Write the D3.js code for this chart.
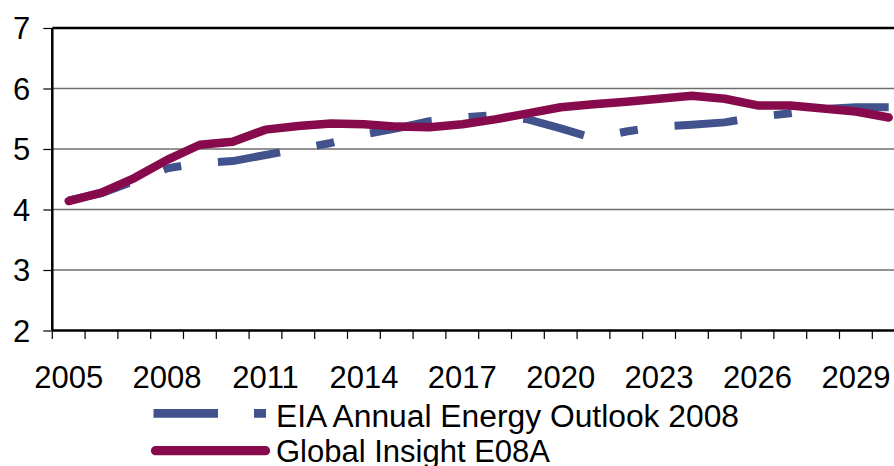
<!DOCTYPE html>
<html>
<head>
<meta charset="utf-8">
<script src="https://cdn.jsdelivr.net/npm/d3@7/dist/d3.min.js"></script>
<style>
  html, body { margin: 0; padding: 0; background: #ffffff; }
  svg { display: block; }
  text { font-family: "Liberation Sans", Arial, Helvetica, sans-serif; fill: #000; }
</style>
</head>
<body>
<svg id="chart" width="894" height="466"></svg>
<script>
// ---- data ----
const years = [2005, 2006, 2007, 2008, 2009, 2010, 2011, 2012, 2013, 2014, 2015, 2016, 2017,
               2018, 2019, 2020, 2021, 2022, 2023, 2024, 2025, 2026, 2027, 2028, 2029, 2030];
const eiaValues = [4.15, 4.27, 4.47, 4.68, 4.77, 4.80, 4.90, 5.00, 5.10, 5.24, 5.34, 5.46, 5.52,
                   5.56, 5.49, 5.34, 5.18, 5.29, 5.37, 5.40, 5.44, 5.53, 5.59, 5.66, 5.69, 5.69];
const giValues = [4.14, 4.28, 4.52, 4.82, 5.07, 5.12, 5.32, 5.38, 5.42, 5.41, 5.37, 5.36, 5.41,
                  5.49, 5.59, 5.69, 5.74, 5.78, 5.83, 5.88, 5.83, 5.72, 5.72, 5.67, 5.62, 5.52];
const xTickLabels = [2005, 2008, 2011, 2014, 2017, 2020, 2023, 2026, 2029];
const yTicks = [2, 3, 4, 5, 6, 7];
const seriesNames = ["EIA Annual Energy Outlook 2008", "Global Insight E08A"];

(function () {
  const svg = d3.select("#chart");
  const pLeft = 52.3, pTop = 28, pBottom = 330.5, band = 32.8;
  const x = d3.scaleBand().domain(years).range([pLeft, pLeft + band * years.length]).paddingInner(0).paddingOuter(0);
  const y = d3.scaleLinear().domain([2, 7]).range([pBottom, pTop]);
  const cx = d => x(d) + x.bandwidth() / 2;
  const pRight = pLeft + band * years.length;

  // gridlines
  svg.append("g").selectAll("line").data(yTicks.filter(v => v > 2 && v < 7)).join("line")
    .attr("x1", pLeft).attr("x2", pRight)
    .attr("y1", d => y(d)).attr("y2", d => y(d))
    .attr("stroke", "#6e6e6e").attr("stroke-width", 1.6);

  // top border
  svg.append("line").attr("x1", pLeft).attr("x2", pRight).attr("y1", y(7)).attr("y2", y(7))
    .attr("stroke", "#000").attr("stroke-width", 2.5);

  // y axis
  const yAxis = d3.axisLeft(y).tickValues(yTicks).tickSize(9).tickPadding(13).tickFormat(d3.format("d"));
  const gy = svg.append("g").attr("transform", `translate(${pLeft},0)`).call(yAxis);
  gy.select(".domain").remove();
  gy.selectAll(".tick line").attr("stroke", "#000").attr("stroke-width", 1.2);
  gy.selectAll(".tick text").attr("font-size", 31).attr("dy", "0.35em")
    .style("font-family", "'Liberation Sans', Arial, sans-serif").attr("fill", "#000");
  svg.append("line").attr("x1", pLeft).attr("x2", pLeft).attr("y1", pTop).attr("y2", pBottom)
    .attr("stroke", "#000").attr("stroke-width", 2.5);

  // x axis: tick marks at band boundaries
  const edges = years.map(d => x(d)).concat([pRight]);
  svg.append("g").selectAll("line").data(edges).join("line")
    .attr("x1", d => d).attr("x2", d => d).attr("y1", pBottom).attr("y2", pBottom + 8.5)
    .attr("stroke", "#000").attr("stroke-width", 1.2);
  const xAxis = d3.axisBottom(x).tickValues(xTickLabels).tickSize(0).tickPadding(0);
  const gx = svg.append("g").attr("transform", `translate(0,${pBottom})`).call(xAxis);
  gx.select(".domain").remove();
  gx.selectAll(".tick text").attr("font-size", 31).attr("y", 57).attr("dy", 0)
    .style("font-family", "'Liberation Sans', Arial, sans-serif").attr("fill", "#000");
  svg.append("line").attr("x1", pLeft).attr("x2", pRight).attr("y1", pBottom).attr("y2", pBottom)
    .attr("stroke", "#000").attr("stroke-width", 2.5);

  // series
  const line = d3.line().x((d, i) => cx(years[i])).y(d => y(d));
  svg.append("path").datum(eiaValues).attr("d", line)
    .attr("fill", "none").attr("stroke", "#41528c").attr("stroke-width", 8)
    .attr("stroke-dasharray", "63,37,18,37").attr("stroke-linejoin", "round");
  svg.append("path").datum(giValues).attr("d", line)
    .attr("fill", "none").attr("stroke", "#860a4c").attr("stroke-width", 8.5)
    .attr("stroke-linecap", "round").attr("stroke-linejoin", "round");

  // legend
  const lg = svg.append("g");
  lg.append("line").attr("x1", 153.5).attr("x2", 266).attr("y1", 413.3).attr("y2", 413.3)
    .attr("stroke", "#41528c").attr("stroke-width", 8.7).attr("stroke-dasharray", "64.5,36,12");
  lg.append("line").attr("x1", 155.5).attr("x2", 265.5).attr("y1", 450.7).attr("y2", 450.7)
    .attr("stroke", "#860a4c").attr("stroke-width", 9.3).attr("stroke-linecap", "round");
  lg.append("text").attr("x", 276).attr("y", 426.5).attr("font-size", 31)
    .attr("textLength", 463).attr("lengthAdjust", "spacingAndGlyphs").text(seriesNames[0]);
  lg.append("text").attr("x", 276).attr("y", 461.7).attr("font-size", 31).text(seriesNames[1]);
})();
</script>
</body>
</html>
